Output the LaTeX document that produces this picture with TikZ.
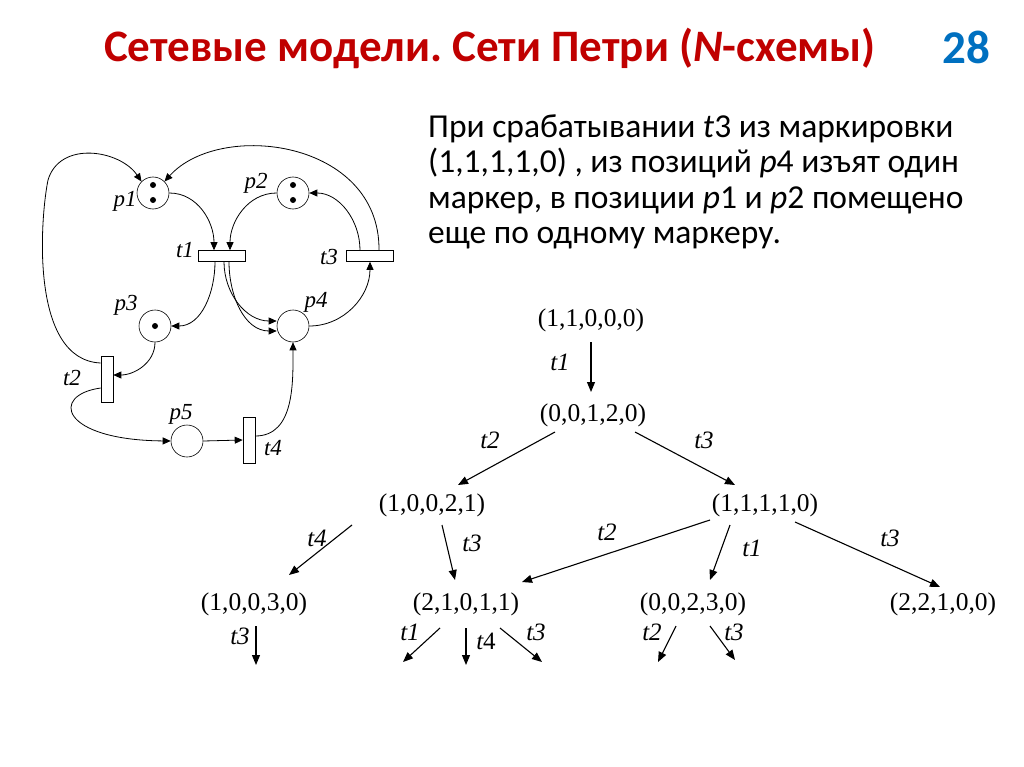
\documentclass[tikz,border=0pt]{standalone}
\usepackage{fontspec}
\setmainfont{Liberation Serif}
\newfontfamily\carfont{Carlito}
\usetikzlibrary{arrows.meta}
\definecolor{ttl}{RGB}{192,0,0}
\definecolor{num}{RGB}{0,112,192}
\frenchspacing
\begin{document}
\begin{tikzpicture}[x=1pt,y=-1pt,
 pl/.style={circle,draw,minimum size=32pt,inner sep=0pt,line width=0.6pt},
 tk/.style={circle,fill,inner sep=0pt,minimum size=6pt},
 htr/.style={draw,minimum width=47pt,minimum height=11pt,inner sep=0pt,line width=0.6pt},
 vtr/.style={draw,minimum width=12pt,minimum height=46pt,inner sep=0pt,line width=0.6pt},
 lb/.style={font=\fontsize{23}{23}\selectfont\itshape,inner sep=0pt},
 arc/.style={-{Triangle[length=8pt,width=7pt]},line width=0.8pt},
 mk/.style={font=\fontsize{25.5}{25.5}\selectfont,inner sep=1pt},
 ta/.style={-{Triangle[length=10pt,width=8pt]},line width=1.1pt},
 tl/.style={font=\fontsize{25}{25}\selectfont\itshape,inner sep=0pt}]
\path[use as bounding box,fill=white] (0,0) rectangle (1024,767);
\node[font=\carfont\fontsize{45}{45}\selectfont\bfseries,text=ttl] (title) at (490,48) {Сетевые модели. Сети Петри (\textit{N}-схемы)};
\node[font=\carfont\fontsize{47}{47}\selectfont\bfseries,text=num] (pg) at (966,47) {28};
\node[font=\carfont\fontsize{33.5}{35.5}\selectfont,align=left,anchor=north west,inner sep=0pt] (txt) at (428,114)
 {При срабатывании \textit{t}3 из маркировки\\(1,1,1,1,0) , из позиций \textit{p}4 изъят один\\маркер, в позиции \textit{p}1 и \textit{p}2 помещено\\еще по одному маркеру.};
% Petri net
\node[pl] (p1) at (153,193) {}; \node[tk] (k11) at (153,185) {}; \node[tk] (k12) at (153,200) {};
\node[pl] (p2) at (293,193) {}; \node[tk] (k21) at (293,185) {}; \node[tk] (k22) at (293,200) {};
\node[pl] (p3) at (155,326) {}; \node[tk] (k31) at (155,326) {};
\node[pl] (p4) at (293,326) {};
\node[pl] (p5) at (187,441) {};
\node[htr] (t1) at (222,256) {};
\node[htr] (t3) at (370,256) {};
\node[vtr] (t2) at (107,379) {};
\node[vtr] (t4) at (249,440) {};
\node[lb] (lp1) at (125,201) {p1};
\node[lb] (lp2) at (256,183) {p2};
\node[lb] (lt1) at (185,250) {t1};
\node[lb] (lt3) at (329,257) {t3};
\node[lb] (lp3) at (126,305) {p3};
\node[lb] (lp4) at (316,302) {p4};
\node[lb] (lt2) at (72,378) {t2};
\node[lb] (lp5) at (181,414) {p5};
\node[lb] (lt4) at (273,448) {t4};
\draw[arc] (p1.east) to[out=0,in=90] ([xshift=-8pt]t1.north);
\draw[arc] (p2.west) to[out=180,in=90] ([xshift=8pt]t1.north);
\draw[arc] ([xshift=-10pt]t3.north) to[out=90,in=0] (p2.east);
\draw[arc] ([xshift=9pt]t3.north) .. controls (380,140) and (220,120) .. (p1.north east);
\draw[arc] ([yshift=16pt]t2.west) .. controls (30,360) and (40,220) .. (48,180) .. controls (60,140) and (120,150) .. (p1.north west);
\draw[arc] ([xshift=-7pt]t1.south) to[out=-90,in=0] (p3.east);
\draw[arc] ([xshift=2pt]t1.south) to[out=-90,in=180] ([yshift=5pt]p4.west);
\draw[arc] ([xshift=7pt]t1.south) to[out=-90,in=180] ([yshift=-5pt]p4.west);
\draw[arc] (p4.east) to[out=0,in=-90] (t3.south);
\draw[arc] (p3.south) to[out=-90,in=0] ([yshift=4pt]t2.east);
\draw[arc] ([yshift=-9pt]t2.west) .. controls (50,395) and (60,440) .. (p5.west);
\draw[arc] (p5.east) -- (t4.west);
\draw[arc] ([yshift=4pt]t4.east) to[out=0,in=-90] (p4.south);
% tree
\node[mk] (m0) at (591,320) {(1,1,0,0,0)};
\node[mk] (m1) at (593,415) {(0,0,1,2,0)};
\node[mk] (m2) at (432,505) {(1,0,0,2,1)};
\node[mk] (m3) at (765,505) {(1,1,1,1,0)};
\node[mk] (m4) at (254,604) {(1,0,0,3,0)};
\node[mk] (m5) at (466,604) {(2,1,0,1,1)};
\node[mk] (m6) at (693,604) {(0,0,2,3,0)};
\node[mk] (m7) at (943,604) {(2,2,1,0,0)};
\coordinate (e1) at (256,665); \coordinate (e2) at (403,662); \coordinate (e3) at (466,665);
\coordinate (e4) at (542,662); \coordinate (e5) at (658,662); \coordinate (e6) at (735,660);
\draw[ta] (591,342) -- (591,392); \node[tl] (a1) at (560,362) {t1};
\draw[ta] (555,432) -- (458,485); \node[tl] (a2) at (490,440) {t2};
\draw[ta] (635,432) -- (735,485); \node[tl] (a3) at (704,440) {t3};
\draw[ta] (352,525) -- (289,575); \node[tl] (a4) at (317,538) {t4};
\draw[ta] (442,525) -- (455,580); \node[tl] (a5) at (472,543) {t3};
\draw[ta] (710,520) -- (522,582); \node[tl] (a6) at (607,532) {t2};
\draw[ta] (730,525) -- (710,580); \node[tl] (a7) at (752,548) {t1};
\draw[ta] (795,522) -- (940,587); \node[tl] (a8) at (890,538) {t3};
\draw[ta] (256,626) -- (e1); \node[tl] (b1) at (240,636) {t3};
\draw[ta] (440,628) -- (e2); \node[tl] (b2) at (410,632) {t1};
\draw[ta] (466,628) -- (e3); \node[tl] (b3) at (486,641) {t\upshape 4};
\draw[ta] (500,628) -- (e4); \node[tl] (b4) at (536,632) {t3};
\draw[ta] (676,626) -- (e5); \node[tl] (b5) at (652,632) {t2};
\draw[ta] (710,626) -- (e6); \node[tl] (b6) at (734,632) {t3};
\end{tikzpicture}
\end{document}
